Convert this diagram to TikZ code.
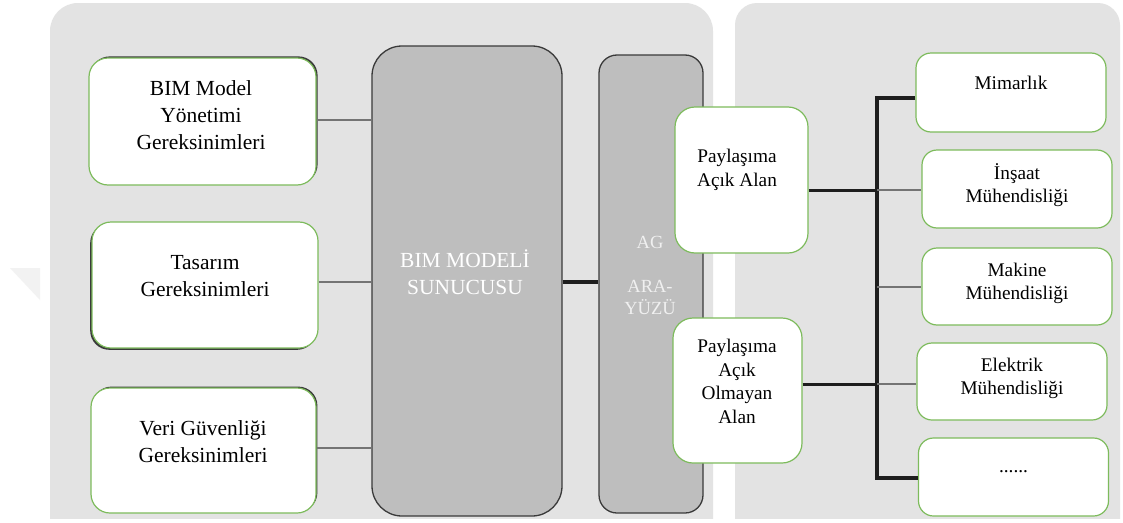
\documentclass[tikz,border=0pt]{standalone}
\usepackage{fontspec}
\setmainfont{Liberation Serif}
\usetikzlibrary{shadows,calc}

\definecolor{panelgray}{HTML}{E3E3E3}
\definecolor{servergray}{HTML}{BEBEBE}
\definecolor{edgedark}{HTML}{3A3A3A}
\definecolor{boxgreen}{HTML}{7DBB5C}
\definecolor{linkgray}{HTML}{747474}
\definecolor{trunkblack}{HTML}{1E1E1E}

\tikzset{
  panel/.style={fill=panelgray, draw=none},
  reqbox/.style={draw=boxgreen, line width=1.2pt, fill=white, rounded corners=19pt,
    minimum width=#1, inner sep=0pt},
  reqbox/.default=226pt,
  shadowed/.style={general shadow={fill=edgedark, shadow xshift=#1}},
  unitbox/.style={draw=boxgreen, line width=1.2pt, fill=white, rounded corners=15pt,
    minimum width=190pt, minimum height=78pt, inner sep=0pt},
  areabox/.style={draw=boxgreen, line width=1.2pt, fill=white, rounded corners=20pt,
    minimum height=146pt, inner sep=0pt},
  serverbox/.style={draw=edgedark, line width=1.3pt, fill=servergray, inner sep=0pt},
  bigtext/.style={font=\fontsize{21.5}{27}\selectfont, align=center, inner sep=0pt},
  smalltext/.style={font=\fontsize{19.3}{23.5}\selectfont, align=center, inner sep=0pt},
  thinlink/.style={draw=linkgray, line width=2pt},
  thicklink/.style={draw=trunkblack, line width=3.4pt},
}

\begin{document}
\begin{tikzpicture}[x=1pt, y=-1pt]
\useasboundingbox (0,0) rectangle (1123,522);
\fill[white] (0,0) rectangle (1123,522);

% faint mark at the left edge
\fill[gray!10] (10,268) -- (40,268) -- (40,300) -- cycle;

% background panels, rounded at the top only
\begin{scope}
  \clip (0,0) rectangle (1123,518);
  \fill[panel, rounded corners=28pt] (50,3) rectangle (713,560);
  \fill[panel, rounded corners=22pt] (735,3) rectangle (1120,560);
\end{scope}

% requirement boxes
\node[reqbox=227pt, minimum height=127pt,
      general shadow={fill=edgedark, shadow xshift=1.6pt, shadow yshift=1.6pt}]
      (b1) at (202.5,121.5) {};
\node[reqbox=226pt, minimum height=126pt,
      general shadow={fill=edgedark, shadow xshift=-1.8pt, shadow yshift=-1.8pt}]
      (b2) at (205,285) {};
\node[reqbox=225pt, minimum height=125pt,
      general shadow={fill=edgedark, shadow xshift=1.4pt, shadow yshift=1.4pt}]
      (b3) at (203.5,450.5) {};
\node[bigtext] (b1t) at (201,115) {BIM Model\\Yönetimi\\Gereksinimleri};
\node[bigtext] (b2t) at (205,276) {Tasarım\\Gereksinimleri};
\node[bigtext] (b3t) at (203,441.5) {Veri Güvenliği\\Gereksinimleri};

% server and network interface
\node[serverbox, rounded corners=30pt, minimum width=190pt, minimum height=470pt]
      (srv) at (467,281) {};
\node[bigtext, text=white] (srvt) at (465,272.5) {BIM MODELİ\\SUNUCUSU};
\node[serverbox, rounded corners=18pt, minimum width=104pt, minimum height=458pt]
      (ag) at (651,284) {};
\node[font=\fontsize{18.5}{22}\selectfont, align=center, inner sep=0pt, text=white!94!black]
      (agt) at (650,275) {AG\\[22pt]ARA-\\YÜZÜ};

% sharing areas
\node[areabox, minimum width=133pt] (pa) at (741.5,180) {};
\node[areabox, minimum width=129pt, minimum height=145pt] (pn) at (737.5,390.5) {};
\node[smalltext] (pat) at (737,170) {Paylaşıma\\Açık Alan};
\node[smalltext] (pnt) at (737,381.5) {Paylaşıma\\Açık\\Olmayan\\Alan};

% disciplines
\node[unitbox, minimum height=79pt] (r1) at (1011,92.5) {};
\node[unitbox] (r2) at (1017,189) {};
\node[unitbox, minimum height=77pt] (r3) at (1017,286.5) {};
\node[unitbox, minimum height=77pt] (r4) at (1012,381.5) {};
\node[unitbox] (r5) at (1013.5,477) {};
\node[smalltext] (r1t) at (1011,83) {Mimarlık};
\node[smalltext] (r2t) at (1017,185) {İnşaat\\Mühendisliği};
\node[smalltext] (r3t) at (1017,283.5) {Makine\\Mühendisliği};
\node[smalltext] (r4t) at (1012,378.5) {Elektrik\\Mühendisliği};
\node[smalltext] (r5t) at (1013.5,472) {......};

% links from requirements to the server
\draw[thinlink] (b1.east |- 0,120) -- (srv.west |- 0,120);
\draw[thinlink] (b2.east |- 0,282) -- (srv.west |- 0,282);
\draw[thinlink] (b3.east |- 0,448) -- (srv.west |- 0,448);
\draw[draw=trunkblack, line width=4pt] (srv.east |- 0,282) -- (ag.west |- 0,282);

% distribution trunk
\coordinate (ttop) at (877,98);
\coordinate (tbot) at (877,478);
\draw[thicklink, line join=miter] (r1.west |- ttop) -- (ttop) -- (tbot) -- (r5.west |- tbot);
\draw[draw=trunkblack, line width=3pt] (pa.east |- 0,190) -- (ttop |- 0,190);
\draw[draw=trunkblack, line width=3pt] (pn.east |- 0,384) -- (ttop |- 0,384);
\draw[thinlink] (ttop |- 0,190) -- (r2.west |- 0,190);
\draw[thinlink] (ttop |- 0,287) -- (r3.west |- 0,287);
\draw[thinlink] (ttop |- 0,384) -- (r4.west |- 0,384);
\end{tikzpicture}
\end{document}
